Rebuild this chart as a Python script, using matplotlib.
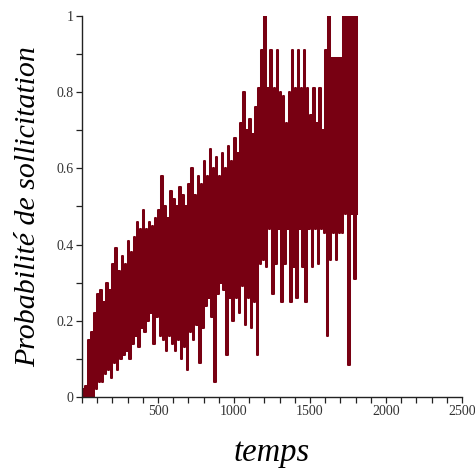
import matplotlib
matplotlib.use("Agg")
import matplotlib.pyplot as plt
from matplotlib.ticker import MultipleLocator

# valeurs : un pic haut a t, un creux bas a t+10
t_haut = list(range(0, 1820, 20))
haut = [0.02, 0.03, 0.15, 0.17, 0.22, 0.27, 0.28, 0.25, 0.30, 0.28,
        0.35, 0.39, 0.33, 0.37, 0.35, 0.41, 0.38, 0.42, 0.46, 0.44,
        0.49, 0.44, 0.46, 0.45, 0.47, 0.49, 0.58, 0.50, 0.47, 0.54,
        0.52, 0.50, 0.55, 0.53, 0.50, 0.56, 0.60, 0.53, 0.58, 0.56,
        0.62, 0.58, 0.65, 0.60, 0.63, 0.58, 0.64, 0.60, 0.66, 0.62,
        0.68, 0.64, 0.72, 0.80, 0.70, 0.73, 0.69, 0.76, 0.81, 0.91,
        1.00, 0.81, 0.91, 0.81, 0.91, 0.80, 0.79, 0.72, 0.80, 0.91,
        0.81, 0.91, 0.81, 0.91, 0.81, 0.74, 0.81, 0.72, 0.81, 0.70,
        0.91, 1.00, 0.89, 0.89, 0.89, 0.89, 1.00, 1.00, 1.00, 1.00,
        1.00]
bas = [0.00, 0.00, 0.00, 0.00, 0.02, 0.04, 0.04, 0.06, 0.07, 0.05,
       0.09, 0.07, 0.10, 0.11, 0.12, 0.10, 0.14, 0.16, 0.13, 0.18,
       0.17, 0.20, 0.22, 0.14, 0.21, 0.16, 0.15, 0.12, 0.16, 0.14,
       0.12, 0.15, 0.10, 0.13, 0.07, 0.17, 0.15, 0.19, 0.09, 0.18,
       0.24, 0.26, 0.21, 0.04, 0.27, 0.30, 0.28, 0.11, 0.26, 0.20,
       0.26, 0.22, 0.29, 0.19, 0.26, 0.18, 0.25, 0.11, 0.35, 0.36,
       0.34, 0.44, 0.27, 0.35, 0.44, 0.25, 0.35, 0.44, 0.25, 0.34,
       0.26, 0.44, 0.34, 0.25, 0.44, 0.34, 0.44, 0.35, 0.44, 0.43,
       0.16, 0.36, 0.43, 0.36, 0.43, 0.43, 0.48, 0.085, 0.48, 0.31,
       0.48]

temps = []
proba = []
for t, h, b in zip(t_haut, haut, bas):
    temps += [t, t + 10]
    proba += [h, b]

couleur = '#780012'
serif = 'Liberation Serif'

fig = plt.figure(figsize=(4.75, 4.73), dpi=100)
ax = fig.add_axes([0.1726, 0.1607, 0.8, 0.8055])
ax.plot(temps, proba, color=couleur, lw=1.45, drawstyle='steps-post')

ax.set_xlim(0, 2500)
ax.set_ylim(0, 1)
for s in ['top', 'right']:
    ax.spines[s].set_visible(False)
for s in ['left', 'bottom']:
    ax.spines[s].set_linewidth(1.0)
    ax.spines[s].set_color('#222222')

ax.xaxis.set_minor_locator(MultipleLocator(100))
ax.yaxis.set_minor_locator(MultipleLocator(0.1))
ax.set_xticks([500, 1000, 1500, 2000, 2500])
ax.set_xticklabels(['500', '1000', '1500', '2000', '2500'])
ax.set_yticks([0, 0.2, 0.4, 0.6, 0.8, 1])
ax.set_yticklabels(['0', '0.2', '0.4', '0.6', '0.8', '1'])
ax.tick_params(which='both', direction='out', length=4, width=0.9,
               color='#222222', labelsize=10, pad=2, labelcolor='#333333')
for lab in ax.get_xticklabels() + ax.get_yticklabels():
    lab.set_family(serif)

ax.set_xlabel('temps', family=serif, style='italic',
              fontsize=23.5, labelpad=14)
ax.set_ylabel('Probabilité de sollicitation', family=serif,
              style='italic', fontsize=21.5, labelpad=11)

fig.savefig('out.png', dpi=100)
